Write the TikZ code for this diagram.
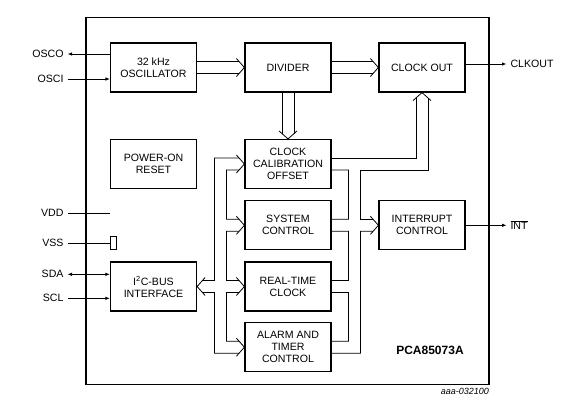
\documentclass[tikz,border=0pt]{standalone}
\usepackage{fontspec}
\setmainfont{Liberation Sans}
\usetikzlibrary{arrows.meta}

\begin{document}
\begin{tikzpicture}[x=1bp,y=-1bp,
                    font=\fontsize{10.6bp}{12bp}\selectfont,
                    >={Latex[length=4.5bp,width=3.5bp]},
                    pinlabel/.style={inner sep=2bp,outer sep=2bp},
                    sig/.style={line width=0.8bp},
                    wall/.style={line width=0.8bp},
                    chev/.pic={\draw[line width=0.8bp] (-8,-9) -- (0,0) -- (-8,9);}]
    \useasboundingbox (0,0) rectangle (582,409);
    \node[draw,line width=1.3bp,minimum width=403bp,minimum height=367bp] (chip) at (287.5,200.7) {};
    \begin{scope}[every node/.style={draw,line width=1.2bp,minimum width=86bp,minimum height=49bp,inner sep=0pt,align=center}]
        \node (OSC) at (153.5,67.5) {32 kHz\\OSCILLATOR};
        \node (DIV) at (288,67.5) {DIVIDER};
        \node (CLK) at (422,67.5) {CLOCK OUT};
        \node (POR) at (153.5,164) {POWER-ON\\RESET};
        \node (CAL) at (288,164) {CLOCK\\CALIBRATION\\OFFSET};
        \node (SYS) at (288,225.3) {SYSTEM\\CONTROL};
        \node (RTC) at (288,286.5) {REAL-TIME\\CLOCK};
        \node (ALM) at (288,347.2) {ALARM AND\\TIMER\\CONTROL};
        \node (I2C) at (153.5,286.5) {I\textsuperscript{2}C-BUS\\INTERFACE};
        \node (INT) at (422,225.3) {INTERRUPT\\CONTROL};
    \end{scope}
    % straight buses
    \foreach \s in {-6,6}{
        \draw[wall] ([yshift=\s bp]OSC.east) -- ([xshift=-5.3bp,yshift=\s bp]DIV.west);
        \draw[wall] ([yshift=\s bp]DIV.east) -- ([xshift=-5.3bp,yshift=\s bp]CLK.west);
        \draw[wall] ([xshift=\s bp]DIV.south) -- ([xshift=\s bp,yshift=5.3bp]CAL.north);
    }
    % right bus
    \draw[wall] ([yshift=6bp]CAL.east) -| ([xshift=-6bp,yshift=-5.3bp]CLK.south);
    \draw[wall] ([yshift=-6bp]CAL.east) -| (348.5,219.3) -- ([yshift=6bp]SYS.east);
    \draw[wall] ([xshift=6bp,yshift=-5.3bp]CLK.south) |- (360.5,170) |- ([xshift=-5.3bp,yshift=6bp]INT.west);
    \draw[wall] ([yshift=-6bp]SYS.east) -| (348.5,280.5) -- ([yshift=6bp]RTC.east);
    \draw[wall] ([xshift=-5.3bp,yshift=-6bp]INT.west) -| (360.5,353.2) -- ([yshift=-6bp]ALM.east);
    \draw[wall] ([yshift=-6bp]RTC.east) -| (348.5,341.2) -- ([yshift=6bp]ALM.east);
    % left bus
    \draw[wall] ([xshift=-5.3bp,yshift=6bp]CAL.west) -| (214.5,280.5) -- ([xshift=5.3bp,yshift=6bp]I2C.east);
    \draw[wall] ([xshift=-5.3bp,yshift=-6bp]CAL.west) -| (226.5,219.3) -- ([xshift=-5.3bp,yshift=6bp]SYS.west);
    \draw[wall] ([xshift=-5.3bp,yshift=-6bp]SYS.west) -| (226.5,280.5) -- ([xshift=-5.3bp,yshift=6bp]RTC.west);
    \draw[wall] ([xshift=5.3bp,yshift=-6bp]I2C.east) -| (214.5,353.2) -- ([xshift=-5.3bp,yshift=-6bp]ALM.west);
    \draw[wall] ([xshift=-5.3bp,yshift=-6bp]RTC.west) -| (226.5,341.2) -- ([xshift=-5.3bp,yshift=6bp]ALM.west);
    \pic at (DIV.west) {chev};
    \pic at (CLK.west) {chev};
    \pic[rotate=-90] at (CAL.north) {chev};
    \pic[rotate=90] at (CLK.south) {chev};
    \pic at (INT.west) {chev};
    \pic at (CAL.west) {chev};
    \pic at (SYS.west) {chev};
    \pic at (RTC.west) {chev};
    \pic at (ALM.west) {chev};
    \pic[rotate=180] at (I2C.east) {chev};
    % pins
    \node[pinlabel,anchor=east] (osco) at (67.5,54) {OSCO};
    \node[pinlabel,anchor=east] (osci) at (67.5,79) {OSCI};
    \node[pinlabel,anchor=east] (vdd) at (67.5,213.3) {VDD};
    \node[pinlabel,anchor=east] (vss) at (67.5,243.3) {VSS};
    \node[pinlabel,anchor=east] (sda) at (67.5,274.3) {SDA};
    \node[pinlabel,anchor=east] (scl) at (67.5,298.3) {SCL};
    \node[pinlabel,anchor=west] (clkout) at (506.5,64) {CLKOUT};
    \node[pinlabel,anchor=west] (int) at (506.5,225.3) {$\overline{\mbox{INT}}$};
    \node[draw,sig,minimum width=6bp,minimum height=13bp,inner sep=0pt,anchor=west] (vssbox) at (OSC.west |- vss.east) {};
    \draw[sig,->] (OSC.west |- osco.east) -- (osco.east);
    \draw[sig,->] (osci.east) -- (OSC.west |- osci.east);
    \draw[sig] (vdd.east) -- (OSC.west |- vdd.east);
    \draw[sig] (vss.east) -- (vssbox.west);
    \draw[sig,<->] (sda.east) -- (I2C.west |- sda.east);
    \draw[sig,->] (scl.east) -- (I2C.west |- scl.east);
    \draw[sig,->] (CLK.east |- clkout.west) -- (clkout.west);
    \draw[sig,->] (INT.east |- int.west) -- (int.west);
    \node[font=\bfseries\fontsize{12bp}{14bp}\selectfont] (part) at (430,350) {PCA85073A};
    \node[font=\itshape\fontsize{9bp}{10bp}\selectfont,anchor=east,inner sep=0pt] (ref) at (489,391) {aaa-032100};
\end{tikzpicture}
\end{document}
